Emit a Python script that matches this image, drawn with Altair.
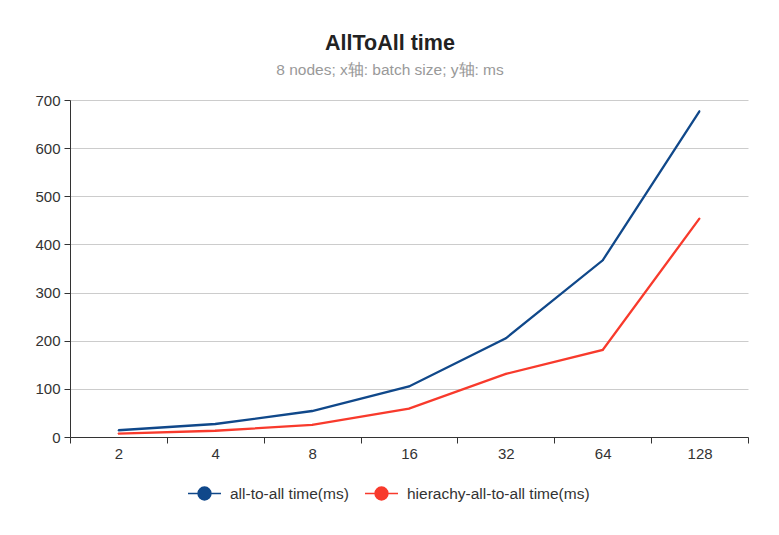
import altair as alt
import pandas as pd

batch = ["2", "4", "8", "16", "32", "64", "128"]
all_to_all = [14, 27, 54, 105, 205, 367, 677]
hier_all_to_all = [7, 13, 25, 59, 131, 181, 454]
series = ["all-to-all time(ms)", "hierachy-all-to-all time(ms)"]
colors = ["#10488a", "#f83a2c"]

rows = []
for b, v in zip(batch, all_to_all):
    rows.append({"batch": b, "value": v, "series": series[0]})
for b, v in zip(batch, hier_all_to_all):
    rows.append({"batch": b, "value": v, "series": series[1]})
df = pd.DataFrame(rows)

FONT = "Liberation Sans"

legend = alt.Legend(
    orient="none", legendX=117, legendY=376,
    direction="horizontal", title=None,
    symbolType="M-1,0H-0.39M0.39,0H1M-0.39,0A0.39,0.39 0 1,1 0.39,0A0.39,0.39 0 1,1 -0.39,0",
    symbolSize=1089, symbolStrokeWidth=1.5, symbolOpacity=1,
    labelFontSize=15.5, labelColor="#333", columnPadding=13, labelOffset=8,
    labelLimit=400,
)

x = alt.X("batch:N", sort=batch, title=None,
          scale=alt.Scale(paddingInner=0, paddingOuter=0),
          axis=alt.Axis(labelAngle=0, tickBand="extent", grid=False,
                        domainColor="#333", tickColor="#333",
                        labelColor="#333", labelFontSize=15, labelPadding=3,
                        tickSize=6))
y = alt.Y("value:Q", title=None,
          scale=alt.Scale(domain=[0, 700]),
          axis=alt.Axis(values=[0, 100, 200, 300, 400, 500, 600, 700],
                        gridColor="#cccccc", domainColor="#333",
                        tickColor="#333", labelColor="#333",
                        labelFontSize=15, labelPadding=4, tickSize=6,
                        minExtent=40, maxExtent=40))
stroke = alt.Stroke("series:N", sort=series,
                    scale=alt.Scale(domain=series, range=colors), legend=legend)
fill = alt.Fill("series:N", sort=series,
                scale=alt.Scale(domain=series, range=colors), legend=legend)

base = alt.Chart(df)
lines = base.mark_line(strokeWidth=2.3).encode(x=x, y=y, stroke=stroke)
pts = base.mark_point(size=1, opacity=1, strokeWidth=1).encode(
    x=x, y=y, stroke=stroke, fill=fill)

chart = alt.layer(lines, pts).properties(
    width=678,
    height=337,
    title=alt.TitleParams(
        text="AllToAll time",
        subtitle="8 nodes; x轴: batch size; y轴: ms",
        anchor="middle", fontSize=21.5, fontWeight="bold", color="#222",
        subtitleColor="#999", subtitleFontSize=15.5, subtitlePadding=8,
        font=FONT, subtitleFont=FONT, offset=15, dx=-19,
    ),
    padding={"left": 22, "top": 25, "right": 20, "bottom": 10},
).configure(font=FONT).configure_view(stroke=None).configure_axis(
    labelFont=FONT).configure_legend(labelFont=FONT)

chart.save("out.html", embed_options={"renderer": "svg", "actions": False})
